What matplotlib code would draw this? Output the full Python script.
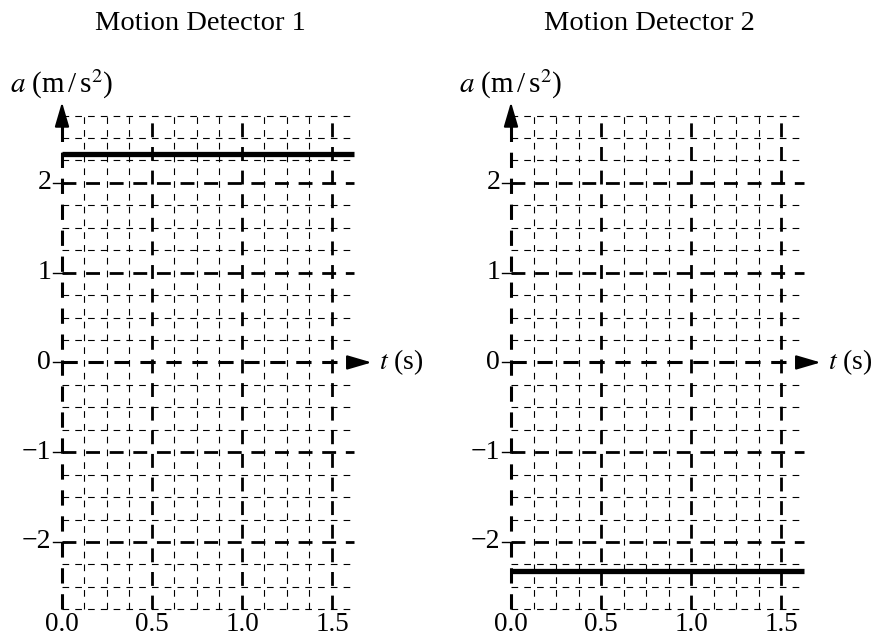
import matplotlib
matplotlib.use('Agg')
import matplotlib.pyplot as plt
import numpy as np

plt.rcParams['font.family'] = ['Liberation Serif', 'DejaVu Serif']
plt.rcParams['mathtext.fontset'] = 'stix'

titles = ['Motion Detector 1', 'Motion Detector 2']
accel = [2.32, -2.32]
t_end = 1.625
x_ticks = [0.0, 0.5, 1.0, 1.5]
x_tick_labels = ['0.0', '0.5', '1.0', '1.5']
y_ticks = [-2, -1, 0, 1, 2]
y_tick_labels = ['\u22122', '\u22121', '0', '1', '2']
y_lim = 2.75

fig = plt.figure(figsize=(8.77, 6.37), dpi=100)
lefts = [62 / 877, 511 / 877]
arrow = '-|>,head_length=0.75,head_width=0.22'

for i in range(2):
    ax = fig.add_axes([lefts[i], 0.0435, 292.5 / 877, 0.775])
    ax.set_xlim(0, t_end)
    ax.set_ylim(-y_lim, y_lim)
    ax.axis('off')

    # grid
    for x in np.arange(0.125, 1.5001, 0.125):
        major = abs(x * 2 - round(x * 2)) < 1e-6
        if major:
            ax.plot([x, x], [-y_lim, y_lim], color='black', lw=2.0,
                    dashes=(5, 3.5), clip_on=False)
        else:
            ax.plot([x, x], [-y_lim, y_lim], color='black', lw=0.8,
                    dashes=(6, 5.5), dash_capstyle='butt', clip_on=False)
    for y in np.arange(-2.75, 2.7501, 0.25):
        if abs(y) < 1e-6:
            continue
        major = abs(y - round(y)) < 1e-6
        if major:
            ax.plot([0, t_end], [y, y], color='black', lw=2.0,
                    dashes=(5, 3.5), clip_on=False)
        else:
            ax.plot([0, t_end], [y, y], color='black', lw=0.8,
                    dashes=(6, 5.5), clip_on=False)

    # axes with arrows
    ax.plot([0, 0], [-y_lim, 2.78], color='black', lw=2.2, dashes=(5, 3.5),
            clip_on=False)
    ax.annotate('', xy=(0, 2.9), xytext=(0, 2.7),
                arrowprops=dict(arrowstyle=arrow, color='black', lw=1.5,
                                mutation_scale=20, shrinkA=0, shrinkB=0),
                annotation_clip=False)
    ax.plot([0, 1.62], [0, 0], color='black', lw=2.2, dashes=(5, 3.5),
            clip_on=False)
    ax.annotate('', xy=(1.72, 0), xytext=(1.6, 0),
                arrowprops=dict(arrowstyle=arrow, color='black', lw=1.5,
                                mutation_scale=20, shrinkA=0, shrinkB=0),
                annotation_clip=False)

    # data
    ax.plot([0, t_end], [accel[i], accel[i]], color='black', lw=3.8,
            solid_capstyle='butt', clip_on=False)

    # ticks
    for y, lab in zip(y_ticks, y_tick_labels):
        ax.plot([-0.05, 0.03], [y, y], color='black', lw=1.0, clip_on=False)
        ax.text(-0.06, y, lab, ha='right', va='center', fontsize=20)
    for x, lab in zip(x_ticks, x_tick_labels):
        ax.text(x, -2.775, lab, ha='center', va='top', fontsize=19.5)

    ax.text(1.76, 0, r'$t$ (s)', ha='left', va='center', fontsize=20)
    ax.text(-0.29, 3.1, r'$a$ (m$\,$/$\,$s$^{2}$)', ha='left', va='center',
            fontsize=21)
    ax.text(0.77, 3.78, titles[i], ha='center', va='center', fontsize=20.5)

fig.savefig('out.png', dpi=100)
